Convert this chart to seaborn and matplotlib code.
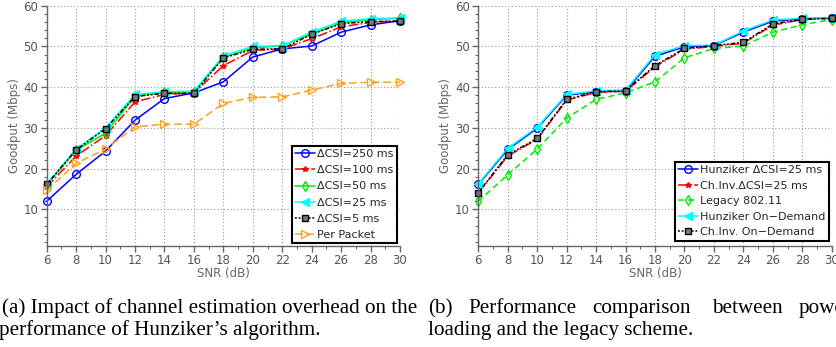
import numpy as np
import pandas as pd
import matplotlib
matplotlib.use("Agg")
import matplotlib.pyplot as plt
import seaborn as sns

snr = [6, 8, 10, 12, 14, 16, 18, 20, 22, 24, 26, 28, 30]

# panel (a): channel estimation overhead
csi_250 = [12.0, 18.6, 24.3, 31.9, 37.2, 38.6, 41.3, 47.4, 49.4, 50.1, 53.5, 55.3, 56.3]
csi_100 = [15.5, 23.1, 28.1, 36.4, 38.2, 38.6, 45.3, 49.0, 49.4, 51.9, 54.8, 55.9, 56.3]
csi_50 = [16.0, 24.5, 28.7, 37.8, 38.7, 38.9, 47.3, 49.6, 50.2, 53.0, 55.8, 56.6, 56.9]
csi_25 = [16.3, 24.8, 30.0, 38.2, 38.9, 39.0, 47.7, 50.0, 50.2, 53.5, 56.2, 56.8, 57.0]
csi_5 = [16.1, 24.6, 29.8, 37.7, 38.5, 38.5, 47.2, 49.3, 49.4, 53.0, 55.6, 56.1, 56.2]
per_packet = [14.7, 21.3, 24.8, 30.3, 30.9, 30.9, 36.0, 37.5, 37.6, 39.3, 40.9, 41.2, 41.2]

# panel (b): power loading vs legacy
hunz_25 = [16.1, 24.7, 29.9, 38.0, 38.9, 39.0, 47.6, 49.9, 50.2, 53.5, 56.2, 56.8, 57.0]
chinv_25 = [14.0, 23.1, 27.2, 36.8, 38.7, 39.0, 45.0, 49.3, 50.0, 50.8, 55.2, 56.6, 56.9]
legacy = [12.0, 18.5, 24.8, 32.4, 37.0, 38.6, 41.3, 47.2, 49.5, 50.1, 53.5, 55.3, 56.6]
hunz_od = [16.3, 25.0, 30.2, 38.2, 39.1, 39.3, 48.0, 50.2, 50.3, 53.8, 56.5, 56.9, 57.1]
chinv_od = [14.1, 23.4, 27.4, 37.0, 38.9, 39.1, 45.3, 49.5, 50.2, 51.0, 55.5, 56.7, 56.9]

labels_a = ["\u0394CSI=250 ms", "\u0394CSI=100 ms", "\u0394CSI=50 ms",
            "\u0394CSI=25 ms", "\u0394CSI=5 ms", "Per Packet"]
labels_b = ["Hunziker \u0394CSI=25 ms", "Ch.Inv.\u0394CSI=25 ms", "Legacy 802.11",
            "Hunziker On\u2212Demand", "Ch.Inv. On\u2212Demand"]

sns.set_theme(style="white")
plt.rcParams["font.family"] = ["DejaVu Sans"]

dotdash = (0, (1.2, 1.2, 1.2, 1.2, 3, 1.2))
styles_a = [
    dict(color="#0000ff", marker="o", linestyle="-", mfc="none", ms=5.5),
    dict(color="#ff0000", marker="*", linestyle="-.", mfc="#ff0000", ms=4),
    dict(color="#00ee00", marker="d", linestyle="-", mfc="none", ms=5.5),
    dict(color="#00ffff", marker="<", linestyle="-", mfc="#00ffff", ms=5.5),
    dict(color="#000000", marker="s", linestyle=dotdash, mfc="#777777", ms=5),
    dict(color="#ffa020", marker=">", linestyle=(0, (5, 2.5)), mfc="none", ms=5.5),
]
styles_b = [
    dict(color="#0000ff", marker="o", linestyle="-", mfc="none", ms=5.5),
    dict(color="#ff0000", marker="*", linestyle="-.", mfc="#ff0000", ms=4),
    dict(color="#00ee00", marker="d", linestyle=(0, (4, 2.5)), mfc="none", ms=5.5),
    dict(color="#00ffff", marker="<", linestyle="-", mfc="#00ffff", ms=5.5),
    dict(color="#000000", marker="s", linestyle=dotdash, mfc="#777777", ms=5),
]

W, H = 836, 347
fig = plt.figure(figsize=(W / 100, H / 100), dpi=100)
ax_a = fig.add_axes([46.7 / W, 1 - 246 / H, 353.3 / W, 240.3 / H])
ax_b = fig.add_axes([478.3 / W, 1 - 246 / H, 353.4 / W, 240.3 / H])


def draw(ax, series, labels, styles, legend_anchor, spacing):
    for vals, lab, st in zip(series, labels, styles):
        df = pd.DataFrame({"snr": snr, "goodput": vals})
        sns.lineplot(data=df, x="snr", y="goodput", ax=ax, label=lab,
                     color=st["color"], linestyle=st["linestyle"], marker=st["marker"],
                     markersize=st["ms"], markerfacecolor=st["mfc"],
                     markeredgecolor=st["color"], markeredgewidth=1.0,
                     linewidth=1.1, clip_on=False)
    ax.set_xlim(6, 30)
    ax.set_ylim(1, 60)
    ax.set_xticks(np.arange(6, 31, 2))
    ax.set_xticks(np.arange(6, 31, 1), minor=True)
    ax.set_yticks(np.arange(10, 61, 10))
    ax.set_yticks(np.arange(2, 61, 2), minor=True)
    ax.grid(True, which="major", linestyle=(0, (1, 2)), color="#999999", linewidth=0.8)
    sns.despine(ax=ax)
    for s in ["left", "bottom"]:
        ax.spines[s].set_color("#666666")
        ax.spines[s].set_linewidth(1.0)
    ax.tick_params(which="major", direction="out", length=4, width=1,
                   color="#666666", labelcolor="#555555", labelsize=8.5, pad=2,
                   bottom=True, left=True)
    ax.tick_params(which="minor", direction="out", length=2.5, width=0.8,
                   color="#666666", bottom=True, left=True)
    ax.set_xlabel("SNR (dB)", fontsize=8.5, color="#666666", labelpad=0)
    ax.set_ylabel("Goodput (Mbps)", fontsize=8.5, color="#666666", labelpad=2)
    leg = ax.legend(loc="lower right", bbox_to_anchor=legend_anchor, borderaxespad=0,
                    fontsize=8, frameon=True, fancybox=False, framealpha=1,
                    edgecolor="black", handlelength=1.8, handletextpad=0.2,
                    labelspacing=spacing, borderpad=0.3)
    leg.get_frame().set_linewidth(1.5)


draw(ax_a, [csi_250, csi_100, csi_50, csi_25, csi_5, per_packet], labels_a, styles_a,
     (0.992, 0.012), 0.55)
draw(ax_b, [hunz_25, chinv_25, legacy, hunz_od, chinv_od], labels_b, styles_b,
     (0.992, 0.022), 0.5)

cap = dict(family=["Liberation Serif", "DejaVu Serif"], fontsize=15.2, color="black",
           va="baseline", ha="left")
fig.text(1.5 / W, 1 - 313 / H, "(a) Impact of channel estimation overhead on the", **cap)
fig.text(-1 / W, 1 - 335 / H, "performance of Hunziker\u2019s algorithm.", **cap)
for word, x in [("(b)", 428), ("Performance", 468), ("comparison", 592.7),
                ("between", 711.7), ("power", 798.3)]:
    fig.text(x / W, 1 - 313 / H, word, **cap)
fig.text(428.3 / W, 1 - 335 / H, "loading and the legacy scheme.", **cap)

fig.savefig("out.png", dpi=100)
